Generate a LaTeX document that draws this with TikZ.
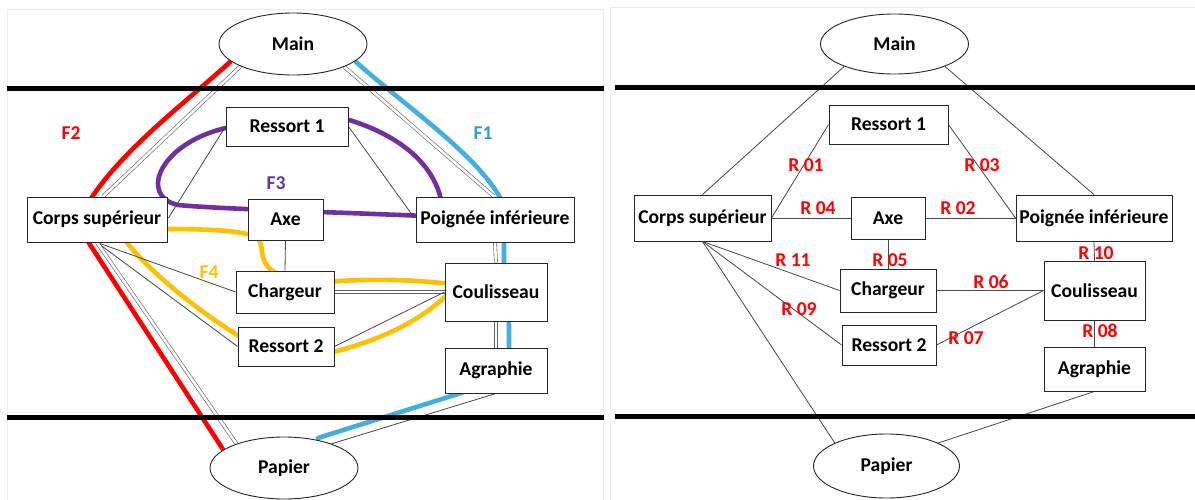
\documentclass[tikz,border=0pt]{standalone}
\usepackage{fontspec}
\setmainfont{Carlito}
\usetikzlibrary{shapes.geometric}
\definecolor{fred}{HTML}{FF0000}
\definecolor{fblue}{HTML}{45AEE0}
\definecolor{fbluet}{HTML}{2E9CCC}
\definecolor{fpurple}{HTML}{7030A0}
\definecolor{fyellow}{HTML}{FFC000}
\pgfdeclarelayer{bg}
\pgfdeclarelayer{mid}
\pgfsetlayers{bg,mid,main}
\tikzset{
  lbl/.style={font=\bfseries\fontsize{19.6}{22}\selectfont},
  box/.style={lbl, rectangle, draw=black!85, line width=0.9pt, fill=white, inner sep=0pt},
  oval/.style={lbl, ellipse, draw=black!85, line width=0.9pt, fill=white, inner sep=0pt, minimum width=148pt, minimum height=62pt},
  thinln/.style={draw=black!72, line width=0.8pt},
  dbl/.style={draw=black!62, line width=0.6pt, double=white, double distance=2.6pt},
  flow/.style={line width=4.6pt, line cap=round},
  sepline/.style={draw=black, line width=5pt},
  panel/.style={draw=black!7, line width=0.8pt},
  rlab/.style={lbl, text=fred, inner sep=0pt}
}
\begin{document}
\begin{tikzpicture}[x=1pt,y=-1pt]
\useasboundingbox (0,0) rectangle (1195,499);

% ---------- left panel nodes ----------
\node[oval] (mainL) at (293,44) {Main};
\node[box, minimum width=122pt, minimum height=39pt] (ress1L) at (287,126.5) {Ressort 1};
\node[box, minimum width=140pt, minimum height=45pt] (corpsL) at (97,219.5) {Corps supérieur};
\node[box, minimum width=75pt, minimum height=41pt] (axeL) at (285.5,219.5) {Axe};
\node[box, minimum width=158pt, minimum height=45pt] (poigL) at (495,219.5) {Poignée inférieure};
\node[box, minimum width=98pt, minimum height=42pt] (charL) at (285,292) {Chargeur};
\node[box, minimum width=96pt, minimum height=39pt] (ress2L) at (286,346.5) {Ressort 2};
\node[box, minimum width=102pt, minimum height=58pt] (coulL) at (496,292) {Coulisseau};
\node[box, minimum width=102pt, minimum height=45pt] (agraL) at (496,370.5) {Agraphie};
\node[oval] (papL) at (284,468) {Papier};

% ---------- right panel nodes ----------
\node[oval, minimum height=60pt] (mainR) at (894.5,44) {Main};
\node[box, minimum width=119pt, minimum height=39pt] (ress1R) at (888.5,124.5) {Ressort 1};
\node[box, minimum width=137pt, minimum height=46pt] (corpsR) at (702.5,218) {Corps supérieur};
\node[box, minimum width=74pt, minimum height=42pt] (axeR) at (888,218) {Axe};
\node[box, minimum width=156pt, minimum height=46pt] (poigR) at (1094,218) {Poignée inférieure};
\node[box, minimum width=96pt, minimum height=43pt] (charR) at (888,290.5) {Chargeur};
\node[box, minimum width=94pt, minimum height=40pt] (ress2R) at (889,345) {Ressort 2};
\node[box, minimum width=101pt, minimum height=59pt] (coulR) at (1094.5,290.5) {Coulisseau};
\node[box, minimum width=101pt, minimum height=44pt] (agraR) at (1094.5,369) {Agraphie};
\node[oval, minimum width=146pt, minimum height=64pt] (papR) at (886.5,466) {Papier};

\begin{pgfonlayer}{bg}
  \fill[white] (0,0) rectangle (1195,499);
  % panel frames
  \draw[panel] (7,9) rectangle (603,505);
  \draw[panel] (610,7) rectangle (1200,505);

  % ---------- flows (left) ----------
  % F2 red
  \draw[flow, fred] (230,62) .. controls (185,103) and (118,153) .. (87,205) -- (87,240) -- (224,451);
  % F1 blue
  \draw[flow, fblue] (356,62) .. controls (410,110) and (482,158) .. (504,205)
      -- (504,262) -- (509,325) -- (509,372) -- (461,393) -- (318,438);
  % F3 purple
  \draw[flow, fpurple] (226,128) .. controls (160,143) and (138,196) .. (178,205)
      .. controls (220,209) and (330,212) .. (425,216);
  \draw[flow, fpurple] (346,119) .. controls (400,135) and (436,165) .. (442,205);
  % F4 yellow
  \draw[flow, fyellow] (160,229) .. controls (205,229) and (245,230) .. (258,238)
      .. controls (266,250) and (256,264) .. (280,275);
  \draw[flow, fyellow] (328,282) .. controls (370,278) and (420,280) .. (450,284);
  \draw[flow, fyellow] (450,292) .. controls (420,322) and (380,340) .. (330,353);
  \draw[flow, fyellow] (242,338) .. controls (200,312) and (148,272) .. (122,236);

  % ---------- connections (left) ----------
  \draw[dbl] (mainL.203) -- ([xshift=6pt]corpsL.north);
  \draw[dbl] (mainL.336) -- ([xshift=-1pt]poigL.north);
  \draw[thinln] (ress1L.west) -- (corpsL.east);
  \draw[thinln] (ress1L.east) -- (poigL.west);
  \draw[dbl] (corpsL.east) -- (axeL.west);
  \draw[dbl] (axeL.east) -- (poigL.west);
  \draw[thinln] (axeL.south) -- (charL.north);
  \draw[dbl] (poigL.south) -- (coulL.north);
  \draw[dbl] (charL.east) -- (coulL.west);
  \draw[thinln] (ress2L.east) -- (coulL.west);
  \draw[dbl] (coulL.south) -- (agraL.north);
  \draw[thinln] (corpsL.south) -- (charL.west);
  \draw[thinln] (corpsL.south) -- (ress2L.west);
  \draw[dbl] (corpsL.south) -- (papL.153);
  \draw[thinln] (agraL.south) -- (papL.27);

  % ---------- connections (right) ----------
  \draw[thinln] (mainR.204) -- (corpsR.north);
  \draw[thinln] (mainR.336) -- (poigR.north);
  \draw[thinln] (ress1R.west) -- (corpsR.east);
  \draw[thinln] (ress1R.east) -- (poigR.west);
  \draw[thinln] (corpsR.east) -- (axeR.west);
  \draw[thinln] (axeR.east) -- (poigR.west);
  \draw[thinln] (axeR.south) -- (charR.north);
  \draw[thinln] (poigR.south) -- (coulR.north);
  \draw[thinln] (charR.east) -- (coulR.west);
  \draw[thinln] (ress2R.east) -- (coulR.west);
  \draw[thinln] (coulR.south) -- (agraR.north);
  \draw[thinln] (corpsR.south) -- (charR.west);
  \draw[thinln] (corpsR.south) -- (ress2R.west);
  \draw[thinln] (corpsR.south) -- (papR.156);
  \draw[thinln] (agraR.south) -- (papR.24);
\end{pgfonlayer}

\begin{pgfonlayer}{mid}
  \draw[sepline] (7,88) -- (604,88);
  \draw[sepline] (7,417) -- (604,417);
  \draw[sepline] (615,87) -- (1195,87);
  \draw[sepline] (615,416) -- (1195,416);
\end{pgfonlayer}

% ---------- flow labels ----------
\node[rlab, text=fred] (f2) at (71,133) {F2};
\node[rlab, text=fbluet] (f1) at (483,133) {F1};
\node[rlab, text=fpurple] (f3) at (276,183) {F3};
\node[rlab, text=fyellow] (f4) at (209,272) {F4};

% ---------- liaison labels ----------
\node[rlab] (r01) at (806,165) {R 01};
\node[rlab] (r03) at (982,165) {R 03};
\node[rlab] (r04) at (818,208) {R 04};
\node[rlab] (r02) at (958,208) {R 02};
\node[rlab] (r11) at (793,260) {R 11};
\node[rlab] (r05) at (890,260) {R 05};
\node[rlab] (r10) at (1096,253) {R 10};
\node[rlab] (r06) at (991,282) {R 06};
\node[rlab] (r09) at (799,309) {R 09};
\node[rlab] (r07) at (966,338) {R 07};
\node[rlab] (r08) at (1100,331) {R 08};
\end{tikzpicture}
\end{document}
